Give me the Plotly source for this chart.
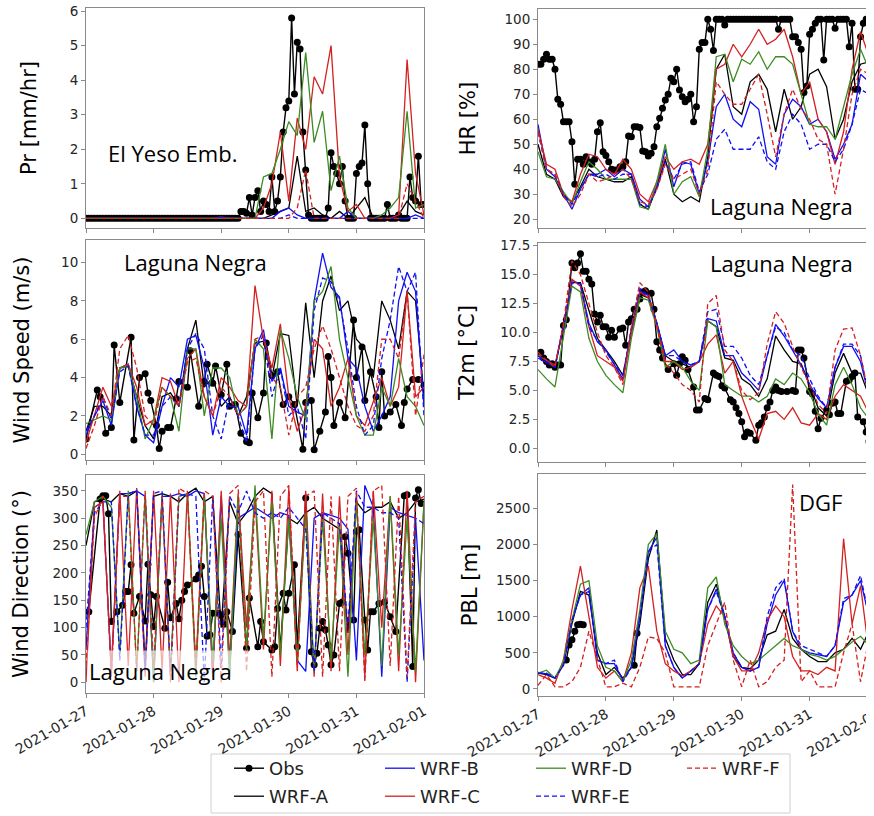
import pandas as pd
import plotly.graph_objects as go

W, H = 874, 816
PAGE_OFFSET_X = 8  # the page body's left margin shifts the figure 8 px right
PAGE_OFFSET_Y = 0  # top margin removed by the post script below
BASE = pd.Timestamp("2021-01-27")
STEP_H = 3  # model output sampled every 3 h

MODELS = ["WRF-A", "WRF-B", "WRF-C", "WRF-D", "WRF-E", "WRF-F"]
COLORS = {"Obs": "#000000", "WRF-A": "#000000", "WRF-B": "#1010f0", "WRF-C": "#d42020",
          "WRF-D": "#3c8c22", "WRF-E": "#1010f0", "WRF-F": "#d42020"}
DASH = {"WRF-E": "5px,3px", "WRF-F": "5px,3px"}
LEGEND_OF = {"Obs": "legend", "WRF-B": "legend", "WRF-D": "legend", "WRF-F": "legend",
             "WRF-A": "legend2", "WRF-C": "legend2", "WRF-E": "legend2"}

# ---------------- Precipitation, El Yeso Emb. ----------------
obs_pr = [0, 0, 0, 0, 0, 0, 0, 0, 0, 0, 0, 0, 0, 0, 0, 0, 0, 0, 0, 0,
          0, 0, 0, 0, 0, 0, 0, 0, 0, 0, 0, 0, 0, 0, 0, 0, 0, 0, 0, 0,
          0, 0, 0, 0, 0, 0, 0, 0, 0, 0, 0, 0, 0, 0, 0,
          0.2, 0.2, 0.15, 0.6, 0.1, 0.6, 0.8, 0.2, 0.5, 0.4, 0.2, 1.2, 0.2, 0.5, 1.2,
          2.5, 3.2, 3.4, 5.8, 3.6, 5.1, 4.9, 2.5, 1.4, 0.1, 0, 0, 0, 0, 0, 0,
          0.3, 1.9, 1.5, 1.3, 1.0, 1.5, 0.5, 0, 0, 0, 1.3, 1.5, 1.6, 2.7, 1.0,
          0, 0, 0, 0, 0, 0, 0.4, 0, 0, 0, 0.1, 0, 0, 0, 1.2, 0.6, 0.5, 1.8, 0.4, 0.4]
pr_a = [0, 0, 0, 0, 0, 0, 0, 0, 0, 0, 0, 0, 0, 0, 0, 0, 0, 0, 0, 0,
        0, 0, 0.1, 0.2, 0.3, 1.8, 0.2, 0.3, 0.1, 0, 0.2, 0, 0.3, 0.6, 0, 0, 0, 0.1, 0.5, 0.2, 0.1]
pr_b = [0, 0, 0, 0, 0, 0, 0, 0, 0, 0, 0, 0, 0, 0, 0, 0, 0.05, 0, 0, 0,
        0, 0, 0, 0.2, 0.3, 0.1, 0, 0, 0, 0, 0, 0.2, 0, 0, 0, 0, 0, 0, 0, 0.1, 0]
pr_c = [0, 0, 0, 0, 0, 0, 0, 0, 0, 0, 0, 0, 0, 0, 0, 0, 0, 0, 0, 0,
        0, 0.3, 1.0, 2.5, 0.5, 2.9, 2.0, 4.1, 3.6, 5.0, 1.2, 0.2, 0.4, 0, 0, 0, 0, 0.1, 4.6, 1.3, 0.1]
pr_d = [0, 0, 0, 0, 0, 0, 0, 0, 0, 0, 0, 0, 0, 0, 0, 0, 0, 0, 0, 0,
        0, 1.2, 1.3, 2.0, 2.8, 2.4, 4.8, 2.2, 3.1, 0.8, 1.8, 0.3, 0, 0, 0, 0.1, 0.3, 0.6, 3.1, 0.3, 0.4]
pr_e = [0, 0, 0, 0, 0, 0, 0, 0, 0, 0, 0, 0, 0, 0, 0, 0, 0, 0, 0, 0,
        0, 0, 0, 0, 0.1, 0, 0, 0, 0, 0, 0, 0, 0, 0, 0, 0, 0, 0, 0, 0, 0]
pr_f = [0, 0, 0, 0, 0, 0, 0, 0, 0, 0, 0, 0, 0, 0, 0, 0, 0, 0, 0, 0,
        0, 0, 0, 0, 0, 0.3, 1.4, 0, 0, 0, 0, 0, 0, 0, 0, 0, 0, 0, 1.0, 0.5, 0]

# ---------------- Relative humidity, Laguna Negra ----------------
obs_hr = [82, 82, 84, 86, 84, 84, 80, 68, 66, 59, 59, 59, 51, 34, 44, 44, 42, 45, 43, 42,
          44, 55, 58.6, 47, 45.5, 43, 40, 39.7, 39.7, 41, 41, 43, 53.3, 53, 57, 57, 56.7, 47.3, 47, 45.3,
          46.4, 49, 57, 60.4, 64.4, 67.7, 70, 76.4, 75, 80, 71.7, 69, 67, 68, 70, 59, 65, 88, 90.7, 90.7,
          100, 96, 87.5, 100, 100, 100, 97.7, 100, 100, 100, 100, 100, 100, 100, 100, 100, 100, 100, 100, 100,
          100, 100, 100, 100, 100, 96, 100, 100, 100, 100, 93, 93, 90.7, 88, 70.7, 73.3, 94, 96, 98.4, 100,
          100, 83.7, 100, 100, 100, 96.4, 100, 100, 100, 100, 89, 98.4, 72, 72, 93, 98.4, 100, 100, 100, 100]
hr_a = [50, 38, 36, 29, 27, 33, 40, 37, 36, 35, 35, 37, 26, 24, 33, 44, 30, 27, 29, 27,
        45, 80, 86, 65, 62, 75, 78, 72, 55, 72, 60, 65, 78, 80, 73, 52, 60, 75, 82, 83, 80]
hr_b = [58, 40, 37, 30, 24, 32, 38, 38, 40, 37, 40, 38, 28, 25, 33, 48, 33, 43, 42, 30,
        43, 65, 70, 60, 57, 67, 64, 45, 42, 62, 68, 65, 58, 60, 55, 44, 50, 58, 78, 75, 70]
hr_c = [56, 42, 40, 30, 27, 38, 46, 45, 40, 38, 44, 40, 30, 27, 35, 45, 40, 43, 44, 42,
        50, 80, 82, 90, 85, 90, 96, 90, 92, 96, 85, 70, 75, 60, 55, 42, 55, 80, 95, 85, 70]
hr_d = [47, 37, 36, 31, 26, 35, 43, 40, 36, 36, 36, 36, 25, 24, 35, 50, 30, 35, 37, 29,
        48, 85, 86, 75, 84, 82, 87, 80, 85, 85, 82, 70, 58, 57, 57, 52, 65, 78, 88, 80, 85]
hr_e = [55, 40, 38, 30, 26, 32, 38, 37, 38, 36, 38, 38, 26, 25, 32, 43, 36, 42, 43, 31,
        38, 52, 56, 48, 48, 48, 53, 43, 40, 55, 62, 58, 48, 50, 50, 43, 48, 58, 72, 70, 67]
hr_f = [55, 40, 38, 29, 25, 30, 38, 35, 36, 38, 40, 36, 27, 26, 32, 42, 36, 38, 40, 30,
        40, 75, 70, 66, 66, 72, 78, 62, 45, 62, 72, 64, 60, 52, 50, 30, 48, 70, 80, 78, 75]

# ---------------- Wind speed, Laguna Negra (obs as (hour, value)) ----------------
obs_ws = [(0, 0.8), (4, 3.35), (5, 3.0), (7, 1.1), (9, 1.4), (10, 5.7), (12, 2.7), (16, 6.1), (17, 0.75),
          (19, 4.0), (21, 4.2), (22, 3.2), (23, 2.8), (25, 1.5), (26, 0.3), (27, 1.2), (29, 1.4), (30, 1.4),
          (32, 2.9), (33, 3.8), (36, 3.5), (37, 5.4), (40, 2.5), (42, 3.8), (43, 4.7), (45, 3.7), (46, 4.6),
          (48, 3.1), (50, 4.7), (51, 2.5), (53, 2.6), (55, 1.1), (57, 0.66), (58, 0.6), (59, 3.2), (61, 1.9),
          (63, 3.2), (64, 5.8), (66, 4.1), (68, 4.3), (70, 2.6), (72, 3.0), (74, 2.6), (77, 0.26), (78, 2.7),
          (80, 2.8), (81, 0.23), (83, 1.2), (85, 2.2), (86, 5.1), (87, 4.0), (88, 1.5), (90, 2.7), (92, 1.9),
          (95, 7.0), (96, 4.0), (98, 5.6), (99, 2.8), (101, 4.3), (103, 3.0), (104, 1.4), (105, 4.3),
          (106, 2.0), (108, 2.2), (110, 2.6), (112, 1.5), (113, 2.7), (114, 3.4), (116, 3.9), (118, 3.9),
          (120, 3.6)]
ws_a = [1.2, 2.5, 2.5, 2.0, 4.5, 4.6, 3.0, 1.5, 0.8, 3.0, 3.2, 2.5, 5.5, 7.0, 3.5, 4.0, 2.5, 3.0, 2.0, 3.0,
        5.8, 5.9, 4.0, 6.3, 6.2, 2.5, 7.9, 4.0, 8.0, 9.3, 7.5, 8.0, 6.0, 5.5, 4.0, 8.0, 7.0, 5.5, 8.5, 8.0, 3.0]
ws_b = [1.0, 2.0, 2.8, 1.5, 4.5, 4.7, 2.5, 1.0, 0.6, 2.5, 4.0, 3.5, 6.0, 6.2, 4.5, 1.0, 3.0, 2.5, 2.5, 1.0,
        5.5, 6.5, 3.8, 4.5, 2.5, 2.2, 2.0, 8.0, 10.5, 8.7, 8.2, 5.0, 4.5, 2.5, 1.2, 2.0, 3.0, 8.0, 9.5, 8.5, 2.5]
ws_c = [0.6, 2.0, 3.5, 2.5, 4.5, 4.7, 3.5, 1.5, 1.8, 4.0, 3.8, 2.5, 5.0, 5.5, 3.0, 2.0, 4.0, 3.5, 2.8, 2.5,
        8.8, 6.0, 4.5, 6.8, 3.0, 1.2, 2.5, 6.0, 5.5, 2.5, 3.5, 5.0, 2.0, 1.5, 2.8, 4.0, 2.5, 3.5, 8.5, 3.0, 3.5]
ws_d = [1.6, 1.8, 2.0, 1.8, 4.5, 4.6, 3.0, 0.8, 1.8, 3.5, 3.0, 1.2, 5.5, 5.5, 2.0, 4.5, 4.5, 4.0, 2.0, 2.5,
        6.0, 5.5, 0.8, 6.5, 5.0, 3.0, 1.8, 8.0, 8.5, 9.8, 6.0, 4.0, 2.0, 1.0, 1.0, 3.5, 2.5, 5.0, 3.0, 2.5, 1.5]
ws_e = [1.2, 2.0, 3.0, 1.8, 4.3, 4.6, 2.5, 1.0, 1.0, 2.5, 3.0, 2.5, 5.5, 6.3, 5.5, 2.0, 0.8, 3.0, 2.0, 0.6,
        5.5, 6.2, 3.0, 4.5, 2.0, 2.5, 0.8, 7.5, 9.2, 9.0, 8.0, 5.5, 2.5, 1.0, 1.5, 5.0, 7.0, 9.8, 8.5, 9.5, 2.0]
ws_f = [0.3, 1.5, 3.0, 2.0, 5.5, 6.2, 4.5, 2.0, 1.5, 3.5, 3.0, 2.5, 4.8, 5.0, 3.0, 2.0, 3.5, 3.0, 2.0, 2.5,
        6.0, 6.2, 4.0, 3.5, 1.0, 3.0, 3.5, 5.5, 6.7, 5.5, 4.0, 2.5, 1.5, 1.2, 2.0, 6.0, 6.0, 5.0, 8.5, 2.0, 5.2]

# ---------------- 2 m temperature, Laguna Negra ----------------
obs_t2m = [(1, 8.3), (2, 7.8), (3, 7.5), (4, 7.2), (5, 7.3), (6, 7.0), (7, 7.2), (8, 7.2), (9, 10.6),
           (10, 11.1), (12, 16.0), (13, 15.6), (14, 16.0), (15, 16.8), (16, 15.3), (17, 15.3), (18, 14.6),
           (19, 14.2), (20, 11.6), (21, 10.9), (22, 11.5), (23, 10.5), (24, 10.5), (25, 9.6), (26, 10.2),
           (27, 9.6), (29, 10.3), (30, 10.4), (31, 8.9), (32, 10.9), (33, 11.2), (34, 12.0), (35, 12.0),
           (36, 12.9), (37, 13.5), (38, 13.6), (40, 13.4), (41, 12.0), (42, 9.2), (43, 8.5), (44, 7.8),
           (46, 6.8), (48, 7.3), (49, 6.3), (50, 7.3), (51, 7.9), (52, 7.6), (53, 6.8), (55, 5.3), (56, 3.3),
           (57, 3.3), (59, 4.3), (60, 4.2), (62, 6.5), (63, 6.3), (64, 6.2), (65, 5.4), (66, 5.2), (68, 4.2),
           (69, 4.0), (70, 3.5), (71, 3.0), (72, 2.3), (73, 1.0), (74, 1.4), (75, 1.3), (77, 0.7), (78, 2.0),
           (79, 2.2), (80, 2.7), (81, 3.5), (82, 4.0), (83, 5.0), (84, 5.3), (85, 5.0), (86, 4.9), (88, 4.9),
           (90, 5.0), (91, 4.9), (92, 8.5), (93, 8.5), (94, 7.8), (96, 4.9), (97, 4.7), (98, 3.2), (99, 1.7),
           (100, 2.6), (102, 3.3), (103, 2.9), (104, 3.9), (105, 4.0), (106, 3.0), (107, 3.0), (109, 5.8),
           (110, 5.9), (111, 6.2), (112, 6.5), (113, 2.7), (115, 2.3), (116, 1.4), (117, 0.6), (118, 0.4)]
t2m_a = [8.0, 7.5, 7.0, 10.6, 14.3, 14.3, 12.0, 9.5, 8.5, 7.5, 6.3, 10.0, 13.3, 13.0, 10.8, 8.0, 7.5, 7.3, 7.0, 7.5,
         11.0, 10.5, 7.8, 7.6, 6.0, 5.5, 4.5, 6.0, 9.7, 8.5, 7.5, 7.3, 5.5, 3.5, 2.8, 6.5, 8.2, 6.5, 6.5, 4.5, 3.5]
t2m_b = [7.8, 7.4, 7.0, 10.6, 14.5, 14.2, 10.8, 9.2, 8.5, 7.2, 6.0, 10.3, 13.6, 13.2, 10.8, 8.0, 8.5, 7.5, 7.2, 7.5,
         11.2, 11.0, 8.0, 8.0, 6.5, 5.8, 5.0, 8.0, 10.7, 9.7, 8.5, 7.2, 5.5, 4.3, 3.5, 7.0, 8.8, 8.8, 7.5, 4.5, 3.8]
t2m_c = [8.0, 7.6, 7.2, 10.5, 14.6, 14.0, 10.5, 8.0, 7.5, 7.0, 5.8, 10.0, 13.5, 13.0, 10.8, 7.5, 7.5, 6.8, 7.0, 7.5,
         9.0, 9.8, 6.5, 7.5, 4.5, 2.5, 0.8, 3.0, 3.2, 2.5, 3.5, 2.2, 2.0, 3.0, 2.5, 4.5, 5.5, 5.0, 4.5, 3.0, 2.5]
t2m_d = [6.8, 6.0, 5.3, 9.5, 14.0, 13.5, 9.5, 7.5, 6.3, 5.5, 4.8, 9.5, 13.0, 12.8, 10.5, 7.0, 7.5, 7.0, 5.8, 5.0,
         11.0, 10.5, 5.5, 5.0, 4.5, 4.5, 4.0, 4.5, 6.0, 5.5, 6.5, 6.0, 4.8, 3.0, 2.0, 5.5, 7.0, 5.5, 3.5, 2.5, 2.0]
t2m_e = [8.0, 7.5, 7.0, 10.6, 14.3, 14.2, 10.5, 9.3, 8.3, 7.3, 6.3, 10.3, 13.8, 13.2, 10.8, 8.0, 8.0, 7.5, 7.2, 7.5,
         11.8, 12.0, 8.8, 8.8, 7.8, 6.3, 5.5, 8.0, 10.5, 10.0, 8.5, 8.0, 6.0, 4.5, 3.5, 7.0, 9.0, 9.0, 8.0, 4.5, 3.8]
t2m_f = [8.3, 7.6, 7.0, 10.8, 16.2, 15.0, 12.5, 10.0, 8.0, 7.0, 5.5, 10.5, 14.3, 13.5, 10.5, 7.3, 6.5, 5.5, 5.0, 4.0,
         12.5, 13.2, 8.5, 7.5, 5.0, 4.2, 4.8, 9.0, 11.8, 10.8, 8.8, 7.0, 5.5, 3.8, 3.0, 8.5, 10.3, 10.4, 8.0, 4.5, 3.5]

# ---------------- Wind direction, Laguna Negra ----------------
obs_wd = [(1, 129), (5, 335), (6, 341), (7, 341), (8, 308), (9, 111), (11, 129), (13, 141), (14, 166),
          (15, 166), (16, 215), (17, 126), (19, 157), (21, 112), (22, 216), (23, 160), (24, 102), (25, 157),
          (28, 99), (29, 183), (30, 118), (32, 144), (33, 116), (34, 150), (35, 166), (36, 178), (39, 189),
          (40, 196), (41, 212), (42, 157), (43, 84), (44, 87), (45, 126), (47, 126), (48, 122), (49, 106),
          (50, 129), (52, 93), (54, 270), (57, 62), (58, 154), (61, 65), (62, 111), (63, 74), (66, 59),
          (67, 65), (68, 135), (70, 163), (71, 132), (72, 163), (74, 215), (75, 65), (78, 337), (80, 56),
          (81, 32), (82, 53), (83, 99), (84, 111), (85, 96), (86, 68), (87, 32), (88, 50), (90, 144),
          (91, 147), (92, 266), (93, 236), (95, 114), (96, 276), (97, 279), (99, 114), (100, 59), (101, 129),
          (102, 129), (104, 144), (106, 147), (108, 120), (110, 93), (113, 341), (114, 343), (116, 29),
          (117, 337), (118, 352), (119, 327)]
wd_a = [250, 330, 335, 330, 345, 340, 350, 30, 340, 345, 340, 330, 345, 355, 330, 340, 100, 330, 290, 310,
        340, 355, 345, 60, 300, 290, 310, 320, 300, 290, 280, 90, 330, 310, 320, 320, 330, 300, 310, 330, 335]
wd_b = [60, 320, 330, 20, 345, 345, 350, 340, 0, 340, 340, 345, 340, 350, 345, 10, 340, 20, 300, 310,
        320, 310, 300, 310, 305, 40, 20, 300, 310, 305, 300, 280, 40, 360, 320, 10, 320, 310, 305, 300, 40]
wd_c = [0, 320, 330, 20, 350, 30, 355, 10, 350, 20, 345, 0, 350, 30, 345, 10, 350, 40, 345, 100,
        340, 60, 350, 30, 355, 20, 350, 10, 345, 20, 340, 50, 345, 10, 350, 100, 340, 20, 350, 0, 330]
wd_d = [270, 330, 340, 320, 50, 350, 20, 345, 0, 340, 20, 340, 345, 10, 340, 40, 300, 10, 340, 60,
        360, 80, 330, 50, 300, 40, 310, 20, 300, 40, 290, 10, 330, 50, 300, 30, 340, 50, 300, 20, 330]
wd_e = [100, 310, 330, 330, 40, 345, 350, 20, 345, 350, 10, 340, 345, 340, 0, 340, 30, 340, 310, 350,
        310, 300, 310, 300, 320, 300, 280, 20, 310, 300, 290, 100, 350, 320, 320, 310, 310, 300, 0, 300, 290]
wd_f = [30, 300, 340, 10, 340, 340, 20, 350, 30, 340, 0, 355, 345, 20, 350, 340, 0, 345, 360, 20,
        330, 350, 10, 340, 360, 30, 340, 350, 10, 340, 20, 340, 355, 0, 350, 360, 30, 340, 10, 330, 340]

# ---------------- PBL height, DGF ----------------
obs_pbl = [(10, 400), (11, 610), (12, 680), (13, 800), (14, 890), (15, 895), (16, 890),
           (25, None), (34, 330), (35, 770)]
pbl_a = [220, 200, 150, 350, 900, 1350, 1300, 500, 200, 300, 150, 300, 900, 1800, 2200, 700, 400, 200, 200, 350,
         1200, 1450, 1000, 450, 300, 280, 400, 750, 800, 1100, 700, 550, 450, 380, 380, 500, 550, 700, 550, 800, 450]
pbl_b = [230, 210, 150, 330, 950, 1300, 1400, 400, 350, 350, 120, 300, 1000, 1900, 2100, 600, 300, 150, 250, 350,
         1100, 1380, 1000, 500, 300, 250, 300, 900, 1300, 1500, 800, 550, 500, 480, 450, 600, 1200, 1300, 1500, 1000, 500]
pbl_c = [200, 150, 80, 400, 1100, 1700, 1000, 300, 150, 250, 100, 500, 1400, 1700, 800, 350, 250, 180, 250, 350,
         900, 1150, 1000, 450, 250, 250, 500, 950, 1150, 1000, 450, 250, 250, 200, 300, 250, 2080, 900, 1430, 500, 300]
pbl_d = [220, 260, 150, 380, 950, 1450, 1500, 600, 300, 250, 100, 400, 1100, 2000, 2150, 800, 550, 500, 350, 400,
         1400, 1550, 900, 600, 450, 350, 400, 500, 600, 700, 600, 550, 480, 450, 400, 450, 550, 650, 730, 600, 500]
pbl_e = [220, 220, 150, 330, 950, 1300, 1350, 400, 350, 400, 100, 300, 1000, 1900, 2000, 600, 300, 150, 250, 350,
         1100, 1350, 1000, 500, 300, 250, 300, 1000, 1400, 1530, 800, 600, 550, 500, 450, 600, 1250, 1300, 1570, 1000, 450]
pbl_f = [50, 200, 30, 30, 100, 300, 800, 400, 30, 30, 80, 30, 300, 720, 700, 500, 30, 30, 30, 30,
         600, 900, 1200, 400, 30, 400, 30, 100, 300, 400, 2830, 100, 250, 30, 30, 30, 500, 900, 100, 700, 400]

PANELS = [
    # (axis number, obs data, obs kind, model arrays)
    (1, obs_pr, "hourly", [pr_a, pr_b, pr_c, pr_d, pr_e, pr_f]),
    (2, obs_hr, "hourly", [hr_a, hr_b, hr_c, hr_d, hr_e, hr_f]),
    (3, obs_ws, "pairs", [ws_a, ws_b, ws_c, ws_d, ws_e, ws_f]),
    (4, obs_t2m, "pairs", [t2m_a, t2m_b, t2m_c, t2m_d, t2m_e, t2m_f]),
    (5, obs_wd, "pairs", [wd_a, wd_b, wd_c, wd_d, wd_e, wd_f]),
    (6, obs_pbl, "pairs", [pbl_a, pbl_b, pbl_c, pbl_d, pbl_e, pbl_f]),
]


def t(hours):
    return [BASE + pd.Timedelta(hours=h) for h in hours]


fig = go.Figure()
for n, obs, kind, models in PANELS:
    xa = "x" if n == 1 else f"x{n}"
    ya = "y" if n == 1 else f"y{n}"
    if kind == "hourly":
        ox, oy = t(range(len(obs))), obs
    else:
        ox, oy = t([p[0] for p in obs]), [p[1] for p in obs]
    fig.add_trace(go.Scatter(x=ox, y=oy, mode="lines+markers", name="Obs",
                             line=dict(color=COLORS["Obs"], width=1.4),
                             marker=dict(size=7, color=COLORS["Obs"]),
                             xaxis=xa, yaxis=ya, showlegend=(n == 1), legend=LEGEND_OF["Obs"],
                             connectgaps=False))
    for name, vals in zip(MODELS, models):
        fig.add_trace(go.Scatter(x=t([STEP_H * i for i in range(len(vals))]), y=vals, mode="lines",
                                 name=name,
                                 line=dict(color=COLORS[name], width=1.3, dash=DASH.get(name, "solid")),
                                 xaxis=xa, yaxis=ya, showlegend=(n == 1), legend=LEGEND_OF[name]))


def fx(p):  # screen pixel -> paper fraction
    return (p - PAGE_OFFSET_X) / W


def fy(p):
    return 1 - (p - PAGE_OFFSET_Y) / H


AX_LINE = "#8a8a8a"
TICKFONT = dict(family="DejaVu Sans", size=13.5, color="#262626")
XTICKFONT = dict(family="DejaVu Sans", size=14, color="#262626")
TITLEFONT = dict(family="DejaVu Sans", size=21, color="#000000")

left_dom = [fx(86), fx(424)]
right_dom = [fx(538), 1.0]
left_range = ["2021-01-27 00:00", "2021-02-01 00:00"]
right_range = ["2021-01-27 00:00", "2021-02-01 01:35"]

rows = {  # n: (x domain, x range, y pixel top, y pixel bottom, y range, dtick, title, standoff, mirror-y)
    1: (left_dom, left_range, 8, 228, [-0.28, 6.09], 1, "Pr [mm/hr]", 27, True),
    2: (right_dom, right_range, 9, 228, [16.5, 104.1], 10, "HR [%]", 23, False),
    3: (left_dom, left_range, 240, 460, [-0.3, 11.18], 2, "Wind Speed (m/s)", 25, True),
    4: (right_dom, right_range, 243, 462, [-1.18, 17.73], 2.5, "T2m [°C]", 19, False),
    5: (left_dom, left_range, 475, 693, [-19.6, 379], 50, "Wind Direction (°)", 18, True),
    6: (right_dom, right_range, 474, 696, [-97, 2975], 500, "PBL [m]", 12, False),
}

layout = {}
for n, (xd, xr, ytop, ybot, yr, dt, title, standoff, mir) in rows.items():
    xk = "xaxis" if n == 1 else f"xaxis{n}"
    yk = "yaxis" if n == 1 else f"yaxis{n}"
    layout[xk] = dict(domain=xd, range=xr, type="date", anchor="y" if n == 1 else f"y{n}",
                      tick0="2021-01-27", dtick=86400000, tickformat="%Y-%m-%d", tickangle=-30,
                      showticklabels=(n >= 5), ticks="outside", ticklen=4, tickcolor=AX_LINE,
                      showline=True, linecolor=AX_LINE, linewidth=1, mirror=True,
                      showgrid=False, zeroline=False, tickfont=XTICKFONT, automargin=False,
                      ticklabeloverflow="allow")
    layout[yk] = dict(domain=[fy(ybot), fy(ytop)], range=yr, anchor="x" if n == 1 else f"x{n}",
                      dtick=dt, tickformat=".1f" if n == 4 else None,
                      ticks="outside", ticklen=4, tickcolor=AX_LINE,
                      showline=True, linecolor=AX_LINE, linewidth=1, mirror=mir,
                      showgrid=False, zeroline=False, tickfont=TICKFONT, ticklabeloverflow="allow",
                      title=dict(text=title, font=TITLEFONT, standoff=standoff), automargin=False)

LABEL_FONT = dict(family="Open Sans", size=22, color="#000000")
lab = dict(xref="paper", yref="paper", showarrow=False, font=LABEL_FONT, xanchor="center", yanchor="middle")
annotations = [
    dict(text="El Yeso Emb.", x=fx(172), y=fy(153), **lab),
    dict(text="Laguna Negra", x=fx(195), y=fy(262), **lab),
    dict(text="Laguna Negra", x=fx(781), y=fy(206), **lab),
    dict(text="Laguna Negra", x=fx(781), y=fy(263), **lab),
    dict(text="DGF", x=fx(820), y=fy(502), **lab),
    dict(text="Laguna Negra", x=fx(87), y=fy(692), xref="paper", yref="paper", showarrow=False, font=LABEL_FONT,
         xanchor="left", yanchor="bottom", width=158, height=38, align="left", valign="middle",
         bgcolor="rgba(255,255,255,0.65)"),
]

LEG_FONT = dict(family="DejaVu Sans", size=18, color="#222222")
legend_common = dict(orientation="h", xanchor="left", yanchor="top", entrywidth=106, font=LEG_FONT,
                     bgcolor="rgba(0,0,0,0)", borderwidth=0, tracegroupgap=0)

fig.update_layout(
    width=W, height=H, margin=dict(l=0, r=0, t=0, b=0, autoexpand=False),
    paper_bgcolor="white", plot_bgcolor="white", showlegend=True,
    annotations=annotations,
    legend=dict(x=fx(229), y=fy(750), **legend_common),
    legend2=dict(x=fx(229), y=fy(778), **legend_common),
    shapes=[dict(type="rect", xref="paper", yref="paper", x0=fx(211), x1=fx(790), y0=fy(813), y1=fy(754),
                 line=dict(color="#d0d0d0", width=1), fillcolor="white", layer="below")],
    **layout,
)

fig.write_html("out.html", post_script="document.body.style.marginTop = '0px';")
